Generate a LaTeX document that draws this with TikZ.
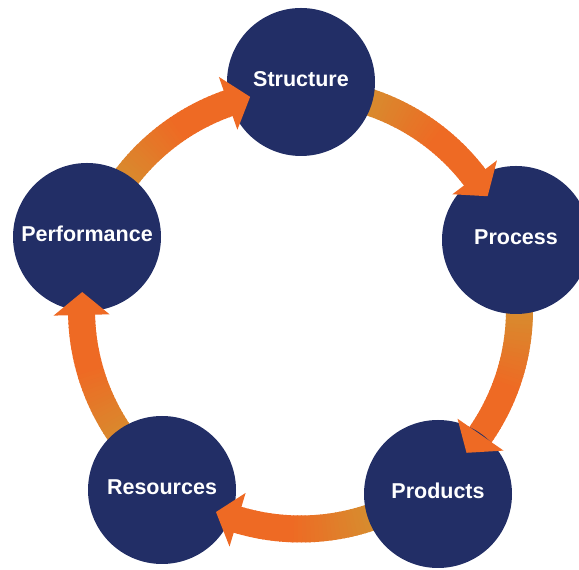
\documentclass[tikz,border=0pt]{standalone}
\usepackage{fontspec}
\setmainfont{Liberation Sans}
\usetikzlibrary{calc}
\definecolor{navy}{RGB}{34,46,102}
\definecolor{goldC}{RGB}{207,152,50}
\definecolor{orangeC}{RGB}{238,106,36}
\begin{document}
\begin{tikzpicture}[x=1pt,y=1pt,
  hub/.style={circle,fill=navy,minimum size=148pt,inner sep=0pt},
  hublabel/.style={text=white,font=\fontsize{21.5}{24}\selectfont\bfseries,yshift=3pt},
  headfill/.style={fill=orangeC}]
\useasboundingbox (0,0) rectangle (579,570);
\coordinate (c) at (300.5,260);
\def\Ro{232.5}\def\Ri{205.5}\def\Rb{219}\def\Rw{247}\def\Rn{191}
% gradient bands
\foreach \s in {90,18,-54,-126,-198} {
  \pgfmathsetmacro\aS{\s-10}
  \pgfmathsetmacro\aE{\s-72+19.3}
  \foreach \i in {0,...,39} {
    \pgfmathsetmacro\a{\aS+(\aE-\aS)*\i/40}
    \pgfmathsetmacro\b{\aS+(\aE-\aS)*(\i+1)/40-0.3}
    \pgfmathtruncatemacro\p{min(100,100*\i/26)}
    \fill[orangeC!\p!goldC] ($(c)+(\a:\Ro)$) arc[start angle=\a,end angle=\b,radius=\Ro pt]
      -- ($(c)+(\b:\Ri)$) arc[start angle=\b,end angle=\a,radius=\Ri pt] -- cycle;
  }
}
% circles
\node[hub] (st) at (301,488) {};
\node[hub] (pr) at (516,330) {};
\node[hub] (pd) at (438,76) {};
\node[hub] (rs) at (162,80) {};
\node[hub] (pf) at (87,333) {};
\node[hublabel] (stl) at (st) {Structure};
\node[hublabel] (prl) at (pr) {Process};
\node[hublabel] (pdl) at (pd) {Products};
\node[hublabel] (rsl) at (rs) {Resources};
\node[hublabel] (pfl) at (pf) {Performance};
% arrow heads
\foreach \s in {90,18,-54,-126,-198} {
  \pgfmathsetmacro\hb{\s-72+19.3}
  \pgfmathsetmacro\tp{\s-72+13.3}
  \fill[headfill] ($(c)+(\hb:\Rw)$) -- ($(c)+(\tp:\Rb)$) -- ($(c)+(\hb:\Rn)$) -- cycle;
}
\end{tikzpicture}
\end{document}
